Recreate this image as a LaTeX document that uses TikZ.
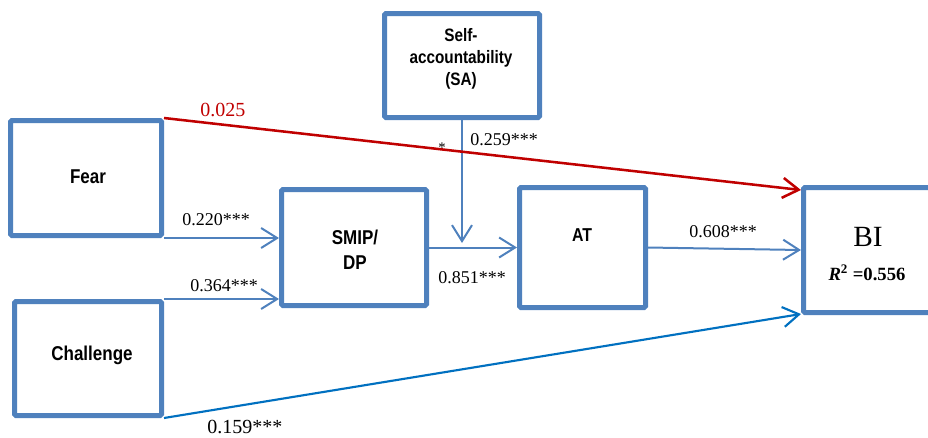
\documentclass[tikz,border=0pt]{standalone}
\usepackage{fontspec}
\setmainfont{Liberation Serif}
\newfontfamily\boxfont{Liberation Sans}[FakeStretch=0.85]
\usetikzlibrary{arrows.meta}
\definecolor{boxblue}{RGB}{79,129,189}
\definecolor{linkblue}{RGB}{79,129,189}
\definecolor{darkblue}{RGB}{0,112,192}
\definecolor{darkred}{RGB}{192,0,0}
\begin{document}
\begin{tikzpicture}[x=0.75pt,y=-0.75pt,
  box/.style={draw=boxblue,line width=3.75pt,inner sep=0pt,fill=white,rounded corners=1pt},
  boxtxt/.style={inner sep=0pt,align=center,font=\boxfont\bfseries\fontsize{15pt}{18.5pt}\selectfont},
  smalltxt/.style={inner sep=0pt,align=center,font=\boxfont\bfseries\fontsize{13.5pt}{16.5pt}\selectfont},
  lab/.style={inner sep=0pt,anchor=base west,font=\fontsize{13.5pt}{16pt}\selectfont},
  biglab/.style={inner sep=0pt,anchor=base west,font=\fontsize{15pt}{18pt}\selectfont},
  tip/.style={-{Straight Barb[length=12pt,width=15pt]}},
  link/.style={draw=linkblue,line width=1.5pt,tip},
  redlink/.style={draw=darkred,line width=1.9pt,tip},
  bluelink/.style={draw=darkblue,line width=1.6pt,tip}]
\useasboundingbox (0,0) rectangle (928,437);
% boxes
\node[box,minimum width=113.25pt,minimum height=86.25pt] (fear) at (86,178) {};
\node[box,minimum width=110.25pt,minimum height=85.5pt] (chal) at (88,358.5) {};
\node[box,minimum width=116.25pt,minimum height=78pt] (sa) at (462,65.5) {};
\node[box,minimum width=108.75pt,minimum height=87pt] (smip) at (354,247.5) {};
\node[box,minimum width=94.5pt,minimum height=90pt] (at) at (582.5,247.5) {};
\node[box,minimum width=95.25pt,minimum height=93.75pt] (bi) at (867,250) {};
% box texts
\node[boxtxt] (fearL) at (88,177) {Fear};
\node[boxtxt] (chalL) at (92,355) {Challenge};
\node[smalltxt] (saL) at (461,59) {Self-\\accountability\\(SA)};
\node[boxtxt] (smipL) at (355,250) {SMIP/\\DP};
\node[boxtxt,font=\boxfont\bfseries\fontsize{14pt}{17pt}\selectfont] (atL) at (582,235) {AT};
\node[inner sep=0pt,font=\fontsize{22pt}{26pt}\selectfont] (biL) at (868,236.5) {BI};
\node[inner sep=0pt,anchor=base,font=\bfseries\fontsize{14pt}{17pt}\selectfont] (r2L) at (867,280) {\textit{R}\textsuperscript{2} =0.556};
% connectors
\coordinate (m) at (462,243);
\draw[link] (fear.south east) -- (fear.south east -| smip.west);
\draw[link] (chal.north east) -- (chal.north east -| smip.west);
\draw[link] (smip.east) -- (at.west);
\draw[link] (sa.south) -- (m);
\draw[link] (at.east) -- (bi.west);
\draw[redlink] (fear.north east) -- ([yshift=-3.75pt]bi.north west);
\draw[bluelink] (chal.south east) -- ([yshift=0.75pt]bi.south west);
% labels
\node[biglab,text=darkred] (l025) at (200,116) {0.025};
\node[lab] (l220) at (182,225) {0.220***};
\node[lab] (l364) at (190,291) {0.364***};
\node[lab] (l851) at (438,283) {0.851***};
\node[lab] (l608) at (689,237) {0.608***};
\node[lab] (l259) at (470,145) {0.259***};
\node[lab,anchor=base,font=\fontsize{11pt}{13pt}\selectfont] (lstar) at (442,152) {*};
\node[biglab] (l159) at (207,433) {0.159***};
\end{tikzpicture}
\end{document}
